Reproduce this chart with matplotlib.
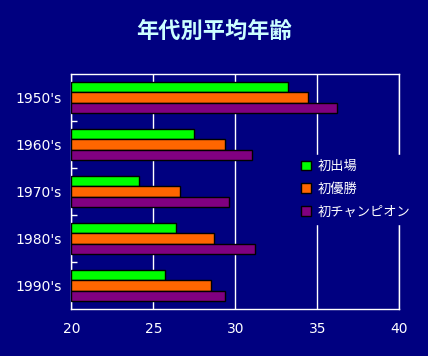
import matplotlib
matplotlib.use("Agg")
import matplotlib.pyplot as plt
import numpy as np

plt.rcParams['font.family'] = ['DejaVu Sans', 'Noto Sans CJK JP']

decades = ["1950's", "1960's", "1970's", "1980's", "1990's"]
series_names = ["初出場", "初優勝", "初チャンピオン"]
debut = [33.2, 27.5, 24.15, 26.4, 25.7]
first_win = [34.45, 29.4, 26.6, 28.7, 28.5]
first_champ = [36.2, 31.0, 29.6, 31.2, 29.4]
xticks = [20, 25, 30, 35, 40]
title = "年代別平均年齢"

colors = ["#00FF00", "#FF6600", "#800080"]
navy = "#000080"

fig = plt.figure(figsize=(4.28, 3.56), dpi=100, facecolor=navy)
ax = fig.add_axes([0.1666, 0.132, 0.7664, 0.660], facecolor=navy)

y = np.arange(len(decades))
h = 0.22
for i, (vals, c, name) in enumerate(zip([debut, first_win, first_champ], colors, series_names)):
    ax.barh(y + (i - 1) * h, np.array(vals) - 20, left=20, height=h, color=c,
            edgecolor="black", linewidth=1.0, label=name, zorder=3)

ax.set_xlim(20, 40)
ax.set_ylim(len(decades) - 0.5, -0.5)
ax.set_xticks(xticks)
ax.set_xticklabels([str(t) for t in xticks])
ax.set_yticks(y)
ax.set_yticklabels(decades)
ax.set_yticks(np.arange(len(decades) - 1) + 0.5, minor=True)
ax.tick_params(axis='y', which='major', length=0, colors='white', labelsize=10, pad=7)
ax.tick_params(axis='y', which='minor', length=4, direction='in', color='white', width=1)
ax.tick_params(axis='x', length=0, colors='white', labelsize=10, pad=9)
ax.grid(axis='x', color='white', linewidth=1, zorder=0)
for s in ax.spines.values():
    s.set_color('white')
    s.set_linewidth(1)

leg = ax.legend(loc='center left', bbox_to_anchor=(0.665, 0.51), frameon=True,
                facecolor=navy, edgecolor=navy, framealpha=1, fontsize=9.5,
                handlelength=0.7, handleheight=0.7, handletextpad=0.5,
                labelspacing=0.75, borderpad=0.4)
for t in leg.get_texts():
    t.set_color('white')
    t.set_family(['Noto Sans CJK JP', 'DejaVu Sans'])
leg.set_zorder(5)

fig.text(0.5, 0.912, title, color="#CCFFFF", fontsize=16, fontweight='bold',
         style='italic', ha='center', va='center',
         family=['Noto Sans CJK JP', 'DejaVu Sans'])

fig.savefig("out.png", dpi=100, facecolor=navy)
